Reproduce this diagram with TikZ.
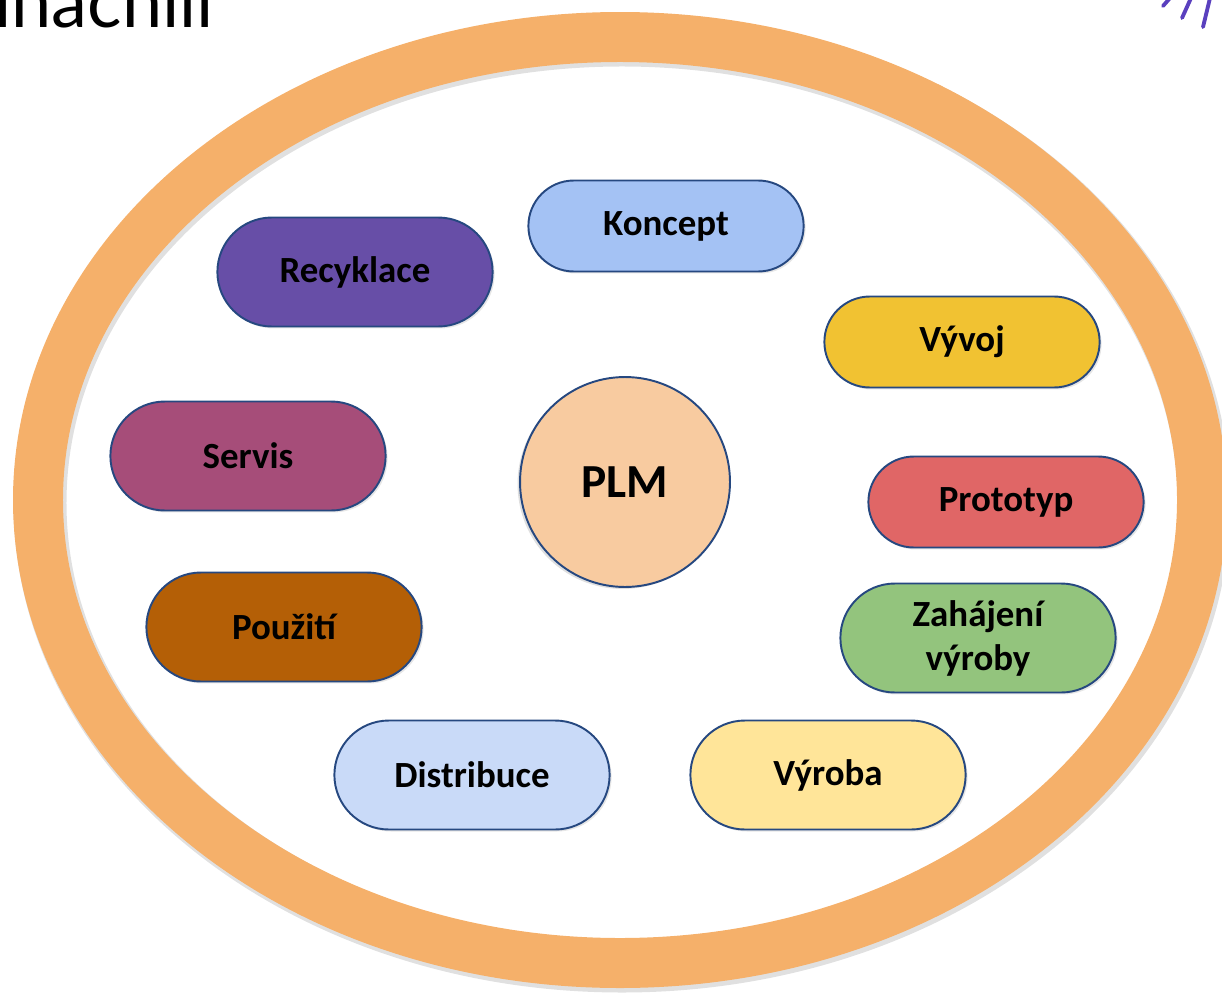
\documentclass[tikz,border=0pt]{standalone}
\usepackage{fontspec}
\setmainfont{Carlito}
\newfontfamily\titlefont{Lato}
\definecolor{ringorange}{RGB}{245, 176, 106}
\definecolor{edgeblue}{RGB}{38, 72, 128}
\definecolor{plmpeach}{RGB}{248, 203, 160}
\definecolor{konceptblue}{RGB}{164, 194, 244}
\definecolor{recyklacepurple}{RGB}{103, 78, 167}
\definecolor{vyvojyellow}{RGB}{241, 194, 50}
\definecolor{servisplum}{RGB}{166, 77, 121}
\definecolor{prototypred}{RGB}{224, 102, 102}
\definecolor{pouzitibrown}{RGB}{180, 95, 6}
\definecolor{zahajenigreen}{RGB}{147, 196, 125}
\definecolor{distribuceblue}{RGB}{201, 218, 248}
\definecolor{vyrobayellow}{RGB}{255, 229, 153}
\definecolor{strokeviolet}{RGB}{90, 64, 190}
\usetikzlibrary{shapes.misc, shadows}

\begin{document}
\begin{tikzpicture}[
            x=0.02cm, y=-0.02cm,
            ring/.style={draw=ringorange, line width=1.0cm},
            ring shade/.style={draw=black, opacity=0.12, line width=1.06cm},
            phase/.style={rounded rectangle, draw=edgeblue, line width=1.1pt,
                          minimum width=5.74cm, minimum height=2.18cm,
                          font=\fontsize{21}{25}\selectfont\bfseries, align=center,
                          drop shadow={opacity=0.2, shadow xshift=0.04cm, shadow yshift=-0.04cm}},
            slim/.style={minimum height=1.82cm},
            hub/.style={circle, draw=edgeblue, line width=1.1pt, fill=plmpeach,
                        minimum size=4.2cm, font=\fontsize{27}{32}\selectfont\bfseries,
                        drop shadow={opacity=0.25, shadow xshift=-0.05cm, shadow yshift=-0.04cm}},
            mark stroke/.style={draw=strokeviolet, line width=2.2pt, line cap=round}
          ]
          \useasboundingbox (0,0) rectangle (1222,993);
          % title, cut off at the top edge
          \node[anchor=base west, inner sep=0pt, font=\titlefont\fontsize{41}{46}\selectfont] (title) at (-6,28) {inachili};
          \draw[mark stroke] (1163,6) -- (1170,-2);
          \draw[mark stroke] (1182,18) -- (1191,-2);
          \draw[mark stroke] (1203,27) -- (1210,-2);
          % lifecycle ring
          \draw[ring shade] (622,503) ellipse [x radius=582, y radius=463];
          \draw[ring] (620,500) ellipse [x radius=582, y radius=463];
          \node[hub] (plm) at (625,482) {PLM};
          % phases
          \node[phase, slim, fill=konceptblue]     (koncept)    at (666,226)  {Koncept};
          \node[phase, fill=recyklacepurple]       (recyklace)  at (355,272)  {Recyklace};
          \node[phase, slim, fill=vyvojyellow]     (vyvoj)      at (962,342)  {Vývoj};
          \node[phase, fill=servisplum]            (servis)     at (248,456)  {Servis};
          \node[phase, slim, fill=prototypred]     (prototyp)   at (1006,502) {Prototyp};
          \node[phase, fill=pouzitibrown]          (pouziti)    at (284,627)  {Použití};
          \node[phase, fill=zahajenigreen]         (zahajeni)   at (978,638)  {Zahájení\\výroby};
          \node[phase, fill=distribuceblue]        (distribuce) at (472,775)  {Distribuce};
          \node[phase, fill=vyrobayellow]          (vyroba)     at (828,775)  {Výroba};
        \end{tikzpicture}
\end{document}
